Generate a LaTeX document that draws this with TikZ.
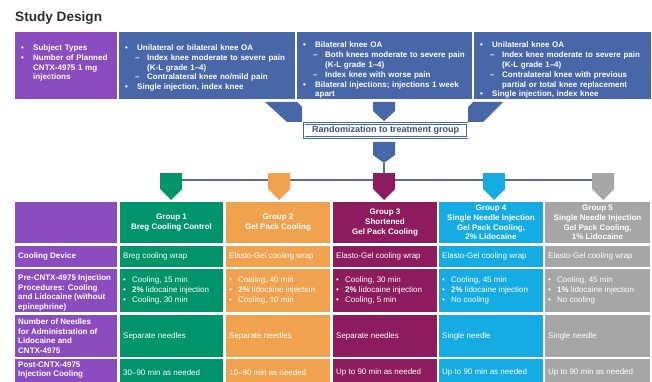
\documentclass[tikz,border=0pt]{standalone}
\usepackage{fontspec}
\setmainfont{Liberation Sans}

\definecolor{cpurple}{HTML}{8A4CBE}
\definecolor{cblue}{HTML}{4767A8}
\definecolor{cgreen}{HTML}{00946A}
\definecolor{corange}{HTML}{F0A24F}
\definecolor{cmagenta}{HTML}{8C1C5D}
\definecolor{ccyan}{HTML}{14ACE3}
\definecolor{cgray}{HTML}{A6A6A6}
\definecolor{clink}{HTML}{5A6E8E}
\definecolor{ctitle}{HTML}{2E2E2E}
\definecolor{crand}{HTML}{3E5172}

% list items for the top boxes
\newcommand{\bpt}[1]{\par\hangindent=12pt\hangafter=1\noindent\makebox[12pt][l]{\textbullet}#1}
\newcommand{\dpt}[1]{\par\hangindent=22pt\hangafter=1\noindent\hspace*{10pt}\makebox[12pt][l]{--}#1}
\newcommand{\cbul}[1]{\makebox[9pt][l]{\textbullet}#1}

\begin{document}
\begin{tikzpicture}[x=1pt, y=-1pt,
  cellbox/.style={anchor=north west, inner sep=0pt, outer sep=0pt},
  toptext/.style={anchor=north west, inner sep=0pt, text width=190pt, text=white,
    font=\bfseries\fontsize{8}{9.8}\selectfont},
  rowlbl/.style={anchor=west, inner sep=0pt, align=left, text=white,
    font=\bfseries\fontsize{8}{9.7}\selectfont},
  grphdr/.style={inner sep=0pt, align=center, text=white,
    font=\bfseries\fontsize{8}{9.7}\selectfont},
  celltxt/.style={anchor=west, inner sep=0pt, align=left, text=white,
    font=\fontsize{8}{9.7}\selectfont},
  link/.style={clink, line width=1.2pt}]

  \useasboundingbox (0,0) rectangle (652,382);
  \clip (0,0) rectangle (652,382);
  \fill[white] (0,0) rectangle (652,382);

  % Title
  \node[anchor=base west, inner sep=0pt, text=ctitle,
    font=\bfseries\fontsize{13.6}{16}\selectfont] (title) at (15,22) {Study Design};

  % Top boxes
  \node[cellbox, fill=cpurple, minimum width=102pt, minimum height=67pt] (subj) at (15,32) {};
  \node[cellbox, fill=cblue, minimum width=176pt, minimum height=67pt] (unibox) at (119,32) {};
  \node[cellbox, fill=cblue, minimum width=175pt, minimum height=67pt] (bilbox) at (297,32) {};
  \node[cellbox, fill=cblue, minimum width=177pt, minimum height=67pt] (conbox) at (474,32) {};

  \node[toptext] (subj-txt) at ([shift={(6,8.5)}]subj.north west)
    {\bpt{Subject Types}\bpt{Number of Planned\newline CNTX-4975 1 mg\newline injections}\par};
  \node[toptext] (uni-txt) at ([shift={(6,8.5)}]unibox.north west)
    {\bpt{Unilateral or bilateral knee OA}%
     \dpt{Index knee moderate to severe pain\newline (K-L grade 1--4)}%
     \dpt{Contralateral knee no/mild pain}%
     \bpt{Single injection, index knee}\par};
  \node[toptext] (bil-txt) at ([shift={(6,6)}]bilbox.north west)
    {\bpt{Bilateral knee OA}%
     \dpt{Both knees moderate to severe pain\newline (K-L grade 1--4)}%
     \dpt{Index knee with worse pain}%
     \bpt{Bilateral injections; injections 1 week\newline apart}\par};
  \node[toptext] (con-txt) at ([shift={(6,6)}]conbox.north west)
    {\bpt{Unilateral knee OA}%
     \dpt{Index knee moderate to severe pain\newline (K-L grade 1--4)}%
     \dpt{Contralateral knee with previous\newline partial or total knee replacement}%
     \bpt{Single injection, index knee}\par};

  % Funnel into randomization
  \fill[cblue] (265,102) -- (297,102) -- (302,107) -- (302,122) -- (287,122) -- cycle;
  \fill[cblue] (373,102) -- (395,102) -- (395,111) -- (384,121) -- (373,111) -- cycle;
  \fill[cblue] (503,102) -- (473,102) -- (468,107) -- (468,122) -- (483,122) -- cycle;

  \node[draw=cblue, double=white, double distance=0.7pt, line width=1pt, fill=white,
    minimum width=163pt, minimum height=14pt, inner sep=0pt, text=crand,
    font=\bfseries\fontsize{9}{11}\selectfont] (rand) at (385.5,130.5) {Randomization to treatment group};

  \fill[cblue] (373,142) -- (395,142) -- (395,155) -- (384,163) -- (373,155) -- cycle;
  \coordinate (rand-tip) at (384,163);

  % Split line to the groups
  \coordinate (split-l) at (171,180);
  \coordinate (split-r) at (603,180);
  \draw[link] (split-l) -- (split-r);
  \draw[link] (rand-tip) -- (rand-tip |- split-l);

  \foreach \cx/\col in {171/cgreen, 279/corange, 384/cmagenta, 494/ccyan, 603/cgray}
    \fill[\col] ({\cx-11},173) -- ({\cx+11},173) -- ({\cx+11},189) -- (\cx,200) -- ({\cx-11},189) -- cycle;

  % Table cells
  \foreach \c/\x/\w/\col in {0/15/102/cpurple, 1/120/103/cgreen, 2/226/104/corange,
                             3/333/104/cmagenta, 4/439/104/ccyan, 5/545/105/cgray}
    \foreach \r/\y/\h in {1/202/41, 2/246/21, 3/269/43, 4/315/42, 5/359/27}
      \node[cellbox, fill=\col, minimum width=\w pt, minimum height=\h pt] (cell-\r-\c) at (\x,\y) {};

  % Row labels
  \node[rowlbl] (lbl-2) at ([xshift=3pt]cell-2-0.west) {Cooling Device};
  \node[rowlbl] (lbl-3) at ([xshift=3pt,yshift=-2.5pt]cell-3-0.west)
    {Pre-CNTX-4975 Injection\\Procedures: Cooling\\and Lidocaine (without\\epinephrine)};
  \node[rowlbl] (lbl-4) at ([xshift=3pt]cell-4-0.west)
    {Number of Needles\\for Administration of\\Lidocaine and\\CNTX-4975};
  \node[rowlbl] (lbl-5) at ([xshift=3pt,yshift=2.5pt]cell-5-0.west) {Post-CNTX-4975\\Injection Cooling};

  % Group headers
  \node[grphdr] (grp-1) at (cell-1-1) {Group 1\\Breg Cooling Control};
  \node[grphdr] (grp-2) at (cell-1-2) {Group 2\\Gel Pack Cooling};
  \node[grphdr] (grp-3) at (cell-1-3) {Group 3\\Shortened\\Gel Pack Cooling};
  \node[grphdr] (grp-4) at (cell-1-4) {Group 4\\Single Needle Injection\\Gel Pack Cooling,\\2\% Lidocaine};
  \node[grphdr] (grp-5) at (cell-1-5) {Group 5\\Single Needle Injection\\Gel Pack Cooling,\\1\% Lidocaine};

  % Cell texts
  \foreach \c/\dev/\ndl/\post in {1/{Breg cooling wrap}/{Separate needles}/{30--90 min as needed},
                                  2/{Elasto-Gel cooling wrap}/{Separate needles}/{10--90 min as needed},
                                  3/{Elasto-Gel cooling wrap}/{Separate needles}/{Up to 90 min as needed},
                                  4/{Elasto-Gel cooling wrap}/{Single needle}/{Up to 90 min as needed},
                                  5/{Elasto-Gel cooling wrap}/{Single needle}/{Up to 90 min as needed}} {
    \node[celltxt] (dev-\c) at ([xshift=3pt]cell-2-\c.west) {\dev};
    \node[celltxt] (ndl-\c) at ([xshift=3pt]cell-4-\c.west) {\ndl};
    \node[celltxt] (post-\c) at ([xshift=3pt]cell-5-\c.west) {\post};
  }
  \foreach \c/\pa/\pb/\pc in {1/{Cooling, 15 min}/{\textbf{2\%} lidocaine injection}/{Cooling, 30 min},
                              2/{Cooling, 40 min}/{\textbf{2\%} lidocaine injection}/{Cooling, 10 min},
                              3/{Cooling, 30 min}/{\textbf{2\%} lidocaine injection}/{Cooling, 5 min},
                              4/{Cooling, 45 min}/{\textbf{2\%} lidocaine injection}/{No cooling},
                              5/{Cooling, 45 min}/{\textbf{1\%} lidocaine injection}/{No cooling}}
    \node[celltxt] (pre-\c) at ([xshift=3pt]cell-3-\c.west) {\cbul{\pa}\\\cbul{\pb}\\\cbul{\pc}};
\end{tikzpicture}
\end{document}
